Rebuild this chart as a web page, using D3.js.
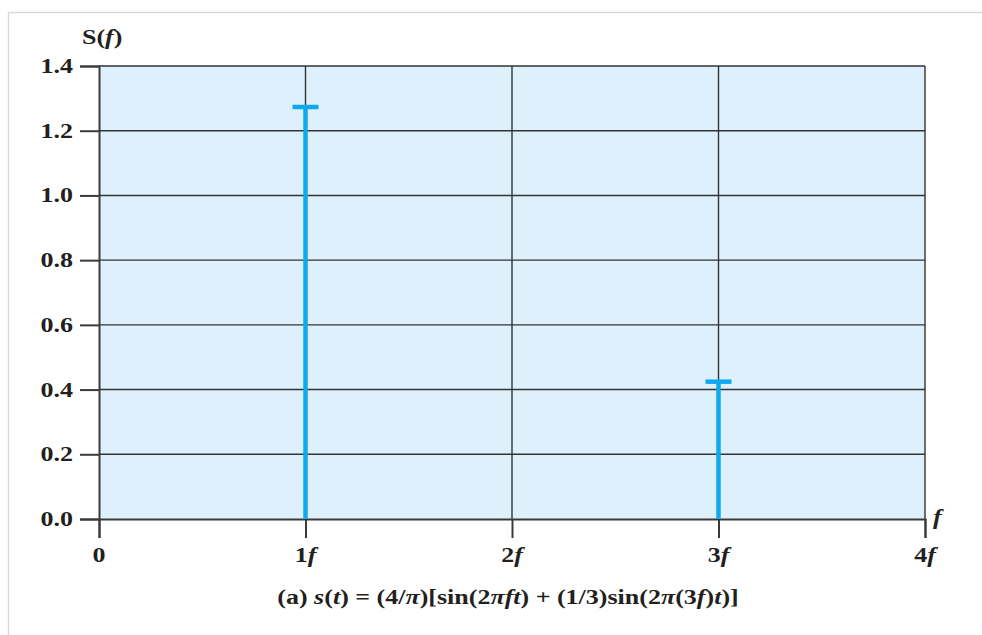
<!DOCTYPE html>
<html>
<head>
<meta charset="utf-8">
<title>Spectrum S(f)</title>
<script src="https://d3js.org/d3.v7.min.js"></script>
<style>
  body { margin: 0; background: #fff; }
  text { font-family: "Liberation Serif", "DejaVu Serif", serif; font-weight: bold; fill: #231f20; }
</style>
</head>
<body>
<div id="chart"></div>
<script>
// data
var harmonics = [1, 3];
var amplitudes = [4 / Math.PI, 4 / (3 * Math.PI)];
var xTicks = [0, 1, 2, 3, 4];
var xTickLabels = ["0", "1", "2", "3", "4"];
var yTicks = [0, 0.2, 0.4, 0.6, 0.8, 1.0, 1.2, 1.4];

var W = 982, H = 635;
var margin = {top: 66, left: 99, right: 57, bottom: 116};
var width = W - margin.left - margin.right,
    height = H - margin.top - margin.bottom;
var stretch = 1.3, fs = 20;

var svg = d3.select("#chart").append("svg")
    .attr("width", W).attr("height", H);

// the text in the picture is wide, so stretch it sideways
function label(parent, px, py, anchor, parts) {
  var t = parent.append("text")
      .attr("transform", "translate(" + px + "," + py + ") scale(" + stretch + ",1)")
      .attr("text-anchor", anchor).attr("font-size", fs);
  parts.forEach(function(p) {
    var s = t.append("tspan").text(p[0]);
    if (p[1]) s.attr("font-style", "italic");
  });
  return t;
}

// outer frame
svg.append("rect")
    .attr("x", 8.5).attr("y", 12.5)
    .attr("width", W + 10).attr("height", H + 10)
    .attr("fill", "none").attr("stroke", "#d9d9d9").attr("stroke-width", 1.5);

var g = svg.append("g")
    .attr("transform", "translate(" + margin.left + "," + margin.top + ")");

var x = d3.scaleLinear().domain([0, 4]).range([0, width]);
var y = d3.scaleLinear().domain([0, 1.4]).range([height, 0]);

g.append("rect")
    .attr("width", width).attr("height", height)
    .attr("fill", "#ddf0fc");

// grid
g.selectAll(".hgrid").data(yTicks.slice(1)).enter().append("line")
    .attr("x1", 0).attr("x2", width)
    .attr("y1", function(d) { return y(d); }).attr("y2", function(d) { return y(d); })
    .attr("stroke", "#333").attr("stroke-width", 1.4);
g.selectAll(".vgrid").data(xTicks.slice(1)).enter().append("line")
    .attr("y1", 0).attr("y2", height)
    .attr("x1", function(d) { return x(d); }).attr("x2", function(d) { return x(d); })
    .attr("stroke", "#333").attr("stroke-width", 1.4);

// axes (ticks only, labels drawn below)
var yAxis = g.append("g")
    .call(d3.axisLeft(y).tickValues(yTicks).tickFormat("").tickSize(19));
var xAxis = g.append("g")
    .attr("transform", "translate(0," + height + ")")
    .call(d3.axisBottom(x).tickValues(xTicks).tickFormat("").tickSize(19));

[yAxis, xAxis].forEach(function(a) {
  a.select(".domain").attr("stroke", "#3a3a3a").attr("stroke-width", 2);
  a.selectAll(".tick line").attr("stroke", "#3a3a3a").attr("stroke-width", 2);
  a.selectAll(".tick text").remove();
});

yTicks.forEach(function(d) {
  label(g, -26, y(d) + 7, "end", [[d3.format(".1f")(d), false]]);
});
xTicks.forEach(function(d, i) {
  var parts = [[xTickLabels[i], false]];
  if (d > 0) parts.push(["f", true]);
  label(g, x(d), height + 43, "middle", parts);
});

// stems
g.selectAll(".stem").data(harmonics).enter().append("line")
    .attr("x1", function(d) { return x(d); }).attr("x2", function(d) { return x(d); })
    .attr("y1", y(0)).attr("y2", function(d, i) { return y(amplitudes[i]); })
    .attr("stroke", "#10a9f0").attr("stroke-width", 4.5);
g.selectAll(".cap").data(harmonics).enter().append("line")
    .attr("x1", function(d) { return x(d) - 13; }).attr("x2", function(d) { return x(d) + 13; })
    .attr("y1", function(d, i) { return y(amplitudes[i]); })
    .attr("y2", function(d, i) { return y(amplitudes[i]); })
    .attr("stroke", "#10a9f0").attr("stroke-width", 4.5);

// axis titles
label(svg, 82, 44, "start", [["S(", false], ["f", true], [")", false]]);
label(svg, 933, 524, "start", [["f", true]]);

// caption
label(svg, 508, 604, "middle", [
  ["(a) ", false], ["s", true], ["(", false], ["t", true], [") = (4/", false], ["\u03c0", true],
  [")[sin(2", false], ["\u03c0ft", true], [") + (1/3)sin(2", false], ["\u03c0", true],
  ["(3", false], ["f", true], [")", false], ["t", true], [")]", false]
]);
</script>
</body>
</html>
